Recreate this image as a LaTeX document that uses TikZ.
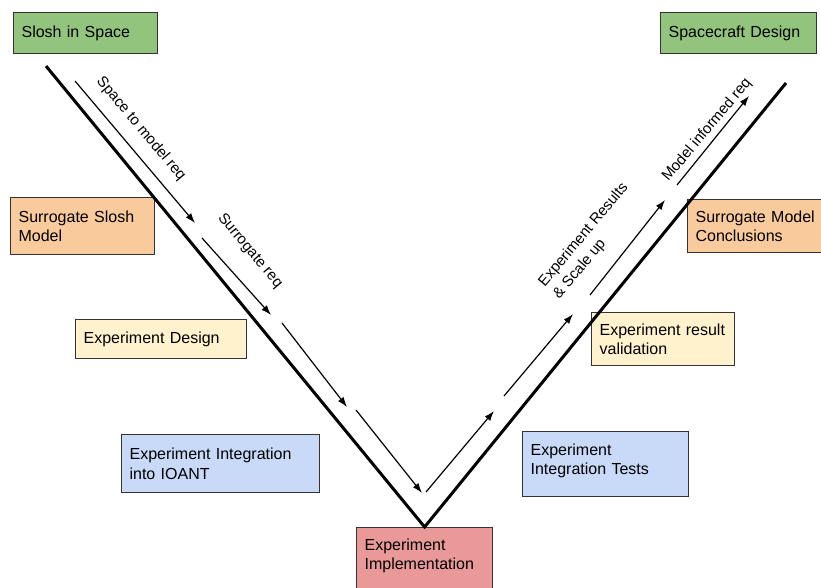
\documentclass[tikz,border=0pt]{standalone}
\usepackage{fontspec}
\setmainfont{Liberation Sans}
\usetikzlibrary{arrows.meta}
\definecolor{cgreen}{HTML}{93C47D}
\definecolor{corange}{HTML}{F9CB9C}
\definecolor{cyellow}{HTML}{FFF2CC}
\definecolor{cblue}{HTML}{C9DAF8}
\definecolor{cred}{HTML}{EA9999}
\definecolor{cborder}{HTML}{333333}
\begin{document}
\begin{tikzpicture}[x=1pt,y=-1pt,
  box/.style={draw=cborder, line width=1.2pt, anchor=north west, align=left,
    inner xsep=8pt, inner ysep=0pt, font=\fontsize{16}{19.5}\selectfont},
  vline/.style={line width=3pt},
  flow/.style={line width=1.2pt, -{Latex[length=10pt,width=7pt]}},
  lbl/.style={font=\fontsize{15}{19}\selectfont, inner sep=0pt}]
\clip (0,0) rectangle (821,588);
\fill[white] (0,0) rectangle (821,588);
% boxes
\node[box, fill=cgreen, minimum width=144pt, minimum height=41pt, text width=128pt] (slosh) at (13,12) {Slosh in Space};
\node[box, fill=cgreen, minimum width=156pt, minimum height=41pt, text width=140pt] (craft) at (660,12) {Spacecraft Design};
\node[box, fill=corange, minimum width=144pt, minimum height=57pt, text width=128pt] (surr) at (10,197) {Surrogate Slosh\\Model};
\node[box, fill=cyellow, minimum width=171pt, minimum height=39pt, text width=155pt] (expdes) at (75,319) {Experiment Design};
\node[box, fill=cblue, minimum width=198pt, minimum height=58pt, text width=182pt] (integ) at (121,434) {Experiment Integration\\into IOANT};
\node[box, fill=cred, text width=120pt, inner ysep=11pt, text depth=50pt] (impl) at (356,527) {Experiment\\Implementation};
\node[box, fill=cblue, minimum width=166pt, minimum height=65pt, text width=150pt] (itests) at (522,431) {Experiment\\Integration Tests\vphantom{g}\\[-9.5pt]\mbox{}};
\node[box, fill=cyellow, minimum width=143pt, minimum height=53pt, text width=127pt] (valid) at (591,312) {Experiment result\\validation};
\node[box, fill=corange, minimum width=140pt, minimum height=53pt, text width=124pt] (concl) at (687,199) {Surrogate Model\\Conclusions};
% V
\coordinate (vL) at (46,66);
\coordinate (vR) at (786,83);
\draw[vline] (vL) -- (impl.north) -- (vR);
% left arrows
\coordinate (a1s) at (75,81);   \coordinate (a1e) at (195,223);
\coordinate (a2s) at (202,238); \coordinate (a2e) at (271,315);
\coordinate (a3s) at (282,323); \coordinate (a3e) at (347,407);
\coordinate (a4s) at (356,410); \coordinate (a4e) at (422,493);
\draw[flow] (a1s) -- (a1e);
\draw[flow] (a2s) -- (a2e);
\draw[flow] (a3s) -- (a3e);
\draw[flow] (a4s) -- (a4e);
% right arrows
\coordinate (b1s) at (426,492); \coordinate (b1e) at (494,411);
\coordinate (b2s) at (504,396); \coordinate (b2e) at (573,314);
\coordinate (b3s) at (590,295); \coordinate (b3e) at (665,200);
\coordinate (b4s) at (677,185); \coordinate (b4e) at (749,96);
\draw[flow] (b1s) -- (b1e);
\draw[flow] (b2s) -- (b2e);
\draw[flow] (b3s) -- (b3e);
\draw[flow] (b4s) -- (b4e);
% labels
\node[lbl, rotate=-50] (l1) at (141,129) {Space to model req};
\node[lbl, rotate=-50] (l2) at (250,251) {Surrogate req};
\node[lbl, rotate=50, align=left] (l3) at (591,241) {Experiment Results\\\& Scale up};
\node[lbl, rotate=50] (l4) at (707,130) {Model informed req};
\end{tikzpicture}
\end{document}
